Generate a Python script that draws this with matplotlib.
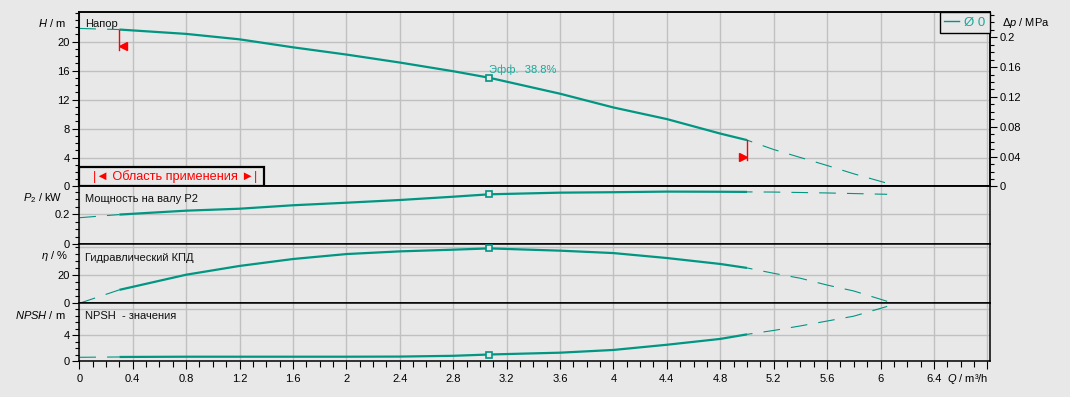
import matplotlib.pyplot as plt
import numpy as np
from matplotlib.patches import Rectangle
from matplotlib.lines import Line2D
from matplotlib.ticker import FixedLocator, MultipleLocator
import matplotlib.transforms as mtransforms

plt.rcParams['font.family'] = ['Liberation Sans', 'DejaVu Sans']
plt.rcParams['mathtext.fontset'] = 'custom'
plt.rcParams['mathtext.it'] = 'Liberation Sans:italic'
plt.rcParams['mathtext.rm'] = 'Liberation Sans'
plt.rcParams['lines.scale_dashes'] = False

# data
q = np.array([0, 0.3, 0.8, 1.2, 1.6, 2.0, 2.4, 2.8, 3.07, 3.6, 4.0, 4.4, 4.8, 5.0,
              5.2, 5.4, 5.6, 5.8, 6.05])
head = np.array([21.8, 21.65, 21.05, 20.3, 19.2, 18.2, 17.1, 15.9, 15.0, 12.8, 10.9, 9.3,
                 7.3, 6.4, 5.1, 4.0, 2.9, 1.75, 0.45])
power = np.array([0.177, 0.198, 0.224, 0.237, 0.26, 0.277, 0.295, 0.317, 0.333, 0.344,
                  0.347, 0.351, 0.35, 0.349, 0.348, 0.345, 0.342, 0.338, 0.333])
eff = np.array([0, 9.5, 20.2, 26.4, 31.3, 34.8, 36.7, 37.9, 38.8, 37.2, 35.5, 32.0,
                27.8, 25.0, 21.2, 17.7, 12.9, 8.7, 1.4])
npsh = np.array([0.57, 0.62, 0.66, 0.66, 0.66, 0.66, 0.68, 0.8, 1.0, 1.28, 1.7, 2.5,
                 3.4, 4.1, 4.7, 5.4, 6.15, 6.9, 8.4])
q_min, q_max, q_bep = 0.3, 5.0, 3.07
eff_label = 'Эфф.  38.8%'

x_ticks = [0, 0.4, 0.8, 1.2, 1.6, 2, 2.4, 2.8, 3.2, 3.6, 4, 4.4, 4.8, 5.2, 5.6, 6, 6.4, 6.8]
x_labels = ['0', '0.4', '0.8', '1.2', '1.6', '2', '2.4', '2.8', '3.2', '3.6', '4', '4.4',
            '4.8', '5.2', '5.6', '6', '6.4', '']
dp_ticks = [0, 0.04, 0.08, 0.12, 0.16, 0.2]
dp_labels = ['0', '0.04', '0.08', '0.12', '0.16', '0.2']

bg = '#e8e8e8'
teal = '#009682'
grid_c = '#c0c0c0'
W, H = 1070, 397


def fx(px):
    return px / W


def fy(py):
    return 1 - py / H


fig = plt.figure(figsize=(W / 100, H / 100), dpi=100, facecolor=bg)

left, right = 79.3, 990
bounds = [(12, 186.5), (186.5, 244.3), (244.3, 303.3), (303.3, 361)]
axes = []
for top, bot in bounds:
    ax = fig.add_axes([fx(left), fy(bot), fx(right) - fx(left), (bot - top) / H],
                      sharex=axes[0] if axes else None)
    ax.set_facecolor(bg)
    for s in ax.spines.values():
        s.set_color('black')
        s.set_linewidth(1.1)
    axes.append(ax)
axH, axP, axE, axN = axes


def setup(ax, ymax, ticks, labels, minor, extra_grid=None):
    ax.set_ylim(0, ymax)
    ax.set_xlim(0, 6.82)
    ax.yaxis.set_major_locator(FixedLocator(ticks))
    ax.set_yticklabels(labels)
    ax.yaxis.set_minor_locator(MultipleLocator(minor))
    ax.xaxis.set_major_locator(FixedLocator(x_ticks))
    ax.xaxis.set_minor_locator(MultipleLocator(0.1))
    ax.grid(True, which='major', color=grid_c, lw=1.0)
    ax.set_axisbelow(True)
    if extra_grid is not None:
        ax.axhline(extra_grid, color=grid_c, lw=1.0, zorder=0.5)
    ax.tick_params(axis='y', which='major', direction='out', length=5, width=0.8,
                   labelsize=8, pad=2, colors='black')
    ax.tick_params(axis='y', which='minor', direction='out', length=3, width=0.8)
    ax.tick_params(axis='x', which='both', bottom=False, labelbottom=False)


setup(axH, 24.07, [0, 4, 8, 12, 16, 20], ['0', '4', '8', '12', '16', '20'], 1)
setup(axP, 0.385, [0, 0.2], ['0', '0.2'], 0.05)
setup(axE, 41.7, [0, 20], ['0', '20'], 5, extra_grid=40)
setup(axN, 8.88, [0, 4], ['0', '4'], 1, extra_grid=8)

axN.tick_params(axis='x', which='both', bottom=True, labelbottom=True, direction='out',
                width=0.8, labelsize=8, pad=3)
axN.tick_params(axis='x', which='major', length=6)
axN.tick_params(axis='x', which='minor', length=4)
axN.set_xticklabels(x_labels)


def draw_curve(ax, y):
    lo = q <= q_min
    mid = (q >= q_min) & (q <= q_max)
    hi = q >= q_max
    ax.plot(q[lo], y[lo], color=teal, lw=0.8, ls=(0, (12, 8)))
    ax.plot(q[mid], y[mid], color=teal, lw=1.6, solid_capstyle='butt')
    ax.plot(q[hi], y[hi], color=teal, lw=0.8, ls=(8, (12, 8)))
    ax.plot([q_bep], [np.interp(q_bep, q, y)], marker='s', ms=5, mfc=bg, mec=teal,
            mew=1.2, zorder=5)


for ax, y in zip(axes, [head, power, eff, npsh]):
    draw_curve(ax, y)

# operating limits on the head curve
for qq, mk, dx in [(q_min, '<', 4), (q_max, '>', -4)]:
    h0 = np.interp(qq, q, head)
    axH.plot([qq, qq], [h0, h0 - 2.8], color='red', lw=1.0)
    tr = mtransforms.offset_copy(axH.transData, fig=fig, x=dx * 0.72, y=0, units='points')
    axH.plot([qq], [h0 - 2.3], marker=mk, ms=6, color='red', transform=tr)

axH.annotate(eff_label, (q_bep, np.interp(q_bep, q, head)), xytext=(0, 6),
             textcoords='offset points', ha='left', va='center', fontsize=8,
             color='#1aa89a')

# operating range box
box_w = (264 - left) / (right - left)
box_h = (186.5 - 166.7) / (186.5 - 12)
axH.add_patch(Rectangle((0, 0), box_w, box_h, transform=axH.transAxes, fc=bg,
                        ec='black', lw=1.6, zorder=4, clip_on=False))
axH.text(box_w / 2 + 0.004, box_h / 2, '|◄ Область применения ►|', transform=axH.transAxes,
         ha='center', va='center', color='red', fontsize=9.2, zorder=5)

# right pressure axis
axR = axH.twinx()
axR.set_ylim(0, 0.2338)
axR.yaxis.set_major_locator(FixedLocator(dp_ticks))
axR.set_yticklabels(dp_labels)
axR.yaxis.set_minor_locator(MultipleLocator(0.01))
axR.tick_params(axis='y', which='major', direction='out', length=5, width=0.8,
                labelsize=8, pad=2)
axR.tick_params(axis='y', which='minor', direction='out', length=3, width=0.8)
for s in axR.spines.values():
    s.set_linewidth(1.1)

leg = axR.legend(handles=[Line2D([], [], color=teal, lw=1.0)], labels=['Ø 0'],
                 loc='upper right', fontsize=9.5, handlelength=1.1, handletextpad=0.4,
                 borderpad=0.35, borderaxespad=0, fancybox=False, framealpha=1,
                 edgecolor='black', facecolor=bg)
leg.get_frame().set_linewidth(1.0)
for t in leg.get_texts():
    t.set_color('#1aa89a')

# panel titles and axis labels
titles = ['Напор', 'Мощность на валу P2', 'Гидравлический КПД', 'NPSH  - значения']
title_y = [24, 199.3, 257.7, 315.7]
for t, yy in zip(titles, title_y):
    fig.text(fx(85), fy(yy), t, ha='left', va='center', fontsize=8, color='#101010')

ylabels = [r'$H$ / m', r'$P_2$ / kW', r'$\eta$ / %', r'$NPSH$ / m']
ylabel_pos = [(66, 23.3), (62, 198.3), (67.5, 256), (66, 315)]
for t, (xx, yy) in zip(ylabels, ylabel_pos):
    fig.text(fx(xx), fy(yy), t, ha='right', va='center', fontsize=8)

fig.text(fx(1001.5), fy(22.7), r'Δ$p$ / MPa', ha='left', va='center', fontsize=8)
fig.text(fx(988), fy(379.5), r'$Q$ / m³/h', ha='right', va='center', fontsize=8)

fig.savefig('out.png', dpi=100, facecolor=bg)
